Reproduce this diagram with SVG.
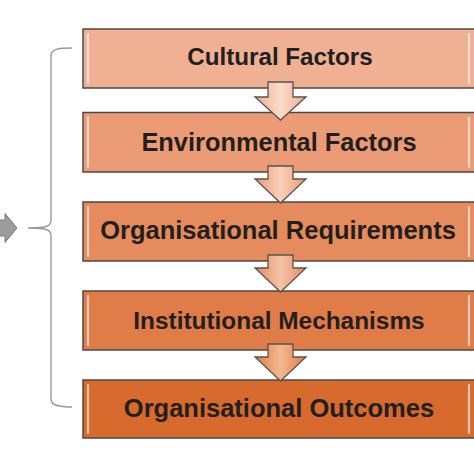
<svg xmlns="http://www.w3.org/2000/svg" width="474" height="474" viewBox="0 0 474 474">
<defs>
<style>
.box{stroke:#4d4846;stroke-width:1.5}
.hl{stroke:#fff;stroke-opacity:0.6;stroke-width:2.2;stroke-linecap:round}
.lbl{font-family:"Liberation Sans",Arial,sans-serif;font-weight:bold;fill:#231f1e;text-anchor:middle}
.arr{stroke:#5a5350;stroke-width:1.3;stroke-linejoin:miter}
</style>
<linearGradient id="ga1" x1="0" y1="0" x2="1" y2="0"><stop offset="0" stop-color="#eeab8c"/><stop offset="0.5" stop-color="#fbdccb"/><stop offset="1" stop-color="#eeab8c"/></linearGradient>
<linearGradient id="ga2" x1="0" y1="0" x2="1" y2="0"><stop offset="0" stop-color="#ea9a74"/><stop offset="0.5" stop-color="#f9d2bc"/><stop offset="1" stop-color="#ea9a74"/></linearGradient>
<linearGradient id="ga3" x1="0" y1="0" x2="1" y2="0"><stop offset="0" stop-color="#e48a5e"/><stop offset="0.5" stop-color="#f6c5a8"/><stop offset="1" stop-color="#e48a5e"/></linearGradient>
<linearGradient id="ga4" x1="0" y1="0" x2="1" y2="0"><stop offset="0" stop-color="#e07c48"/><stop offset="0.5" stop-color="#f4b990"/><stop offset="1" stop-color="#e07c48"/></linearGradient>
</defs>
<rect width="474" height="474" fill="#fff"/>

<g id="bracket">
<path d="M72,48 C58,48 51,49 51,56 L51,220 C51,226 48,228 28,228 C48,228 51,230 51,236 L51,399 C51,405 58,407 72,407" fill="none" stroke="#9a9a9a" stroke-width="1.4"/>
</g>
<g id="input-arrow">
<path d="M-2,220 L5,220 L5,213.5 L17,228 L5,242.5 L5,236 L-2,236 Z" fill="#9c9c9c" stroke="#7a7a7a" stroke-width="1"/>
</g>

<g id="n1">
<rect class="box" x="83" y="29" width="400" height="59" fill="#efb094"/>
<line class="hl" x1="88" y1="34" x2="88" y2="83"/><line class="hl" x1="469" y1="34" x2="469" y2="83"/>
<text class="lbl" x="280" y="65" font-size="24.2">Cultural Factors</text>
</g>
<g id="n2">
<rect class="box" x="83" y="112.5" width="400" height="59.5" fill="#eb9c77"/>
<line class="hl" x1="88" y1="117.5" x2="88" y2="167"/><line class="hl" x1="469" y1="117.5" x2="469" y2="167"/>
<text class="lbl" x="279" y="150.5" font-size="25.4">Environmental Factors</text>
</g>
<g id="n3">
<rect class="box" x="83" y="202" width="400" height="59" fill="#e58b5d"/>
<line class="hl" x1="88" y1="207" x2="88" y2="256"/><line class="hl" x1="469" y1="207" x2="469" y2="256"/>
<text class="lbl" x="278" y="238.5" font-size="25.5">Organisational Requirements</text>
</g>
<g id="n4">
<rect class="box" x="83" y="291" width="400" height="59" fill="#e07c48"/>
<line class="hl" x1="88" y1="296" x2="88" y2="345"/><line class="hl" x1="469" y1="296" x2="469" y2="345"/>
<text class="lbl" x="279" y="328.5" font-size="24.4">Institutional Mechanisms</text>
</g>
<g id="n5">
<rect class="box" x="83" y="380" width="400" height="58" fill="#d76a2c"/>
<line class="hl" x1="88" y1="385" x2="88" y2="433"/><line class="hl" x1="469" y1="385" x2="469" y2="433"/>
<text class="lbl" x="279" y="416.5" font-size="25.5">Organisational Outcomes</text>
</g>

<g id="connectors">
<path class="arr" fill="url(#ga1)" d="M268,82 L293,82 L293,97 L306,97 L280.5,120 L255,97 L268,97 Z"/>
<path class="arr" fill="url(#ga2)" d="M268,166 L293,166 L293,179 L306,179 L280.5,203 L255,179 L268,179 Z"/>
<path class="arr" fill="url(#ga3)" d="M268,255 L293,255 L293,268 L306,268 L280.5,292 L255,268 L268,268 Z"/>
<path class="arr" fill="url(#ga4)" d="M268,344 L293,344 L293,357 L306,357 L280.5,381 L255,357 L268,357 Z"/>
</g>
</svg>
